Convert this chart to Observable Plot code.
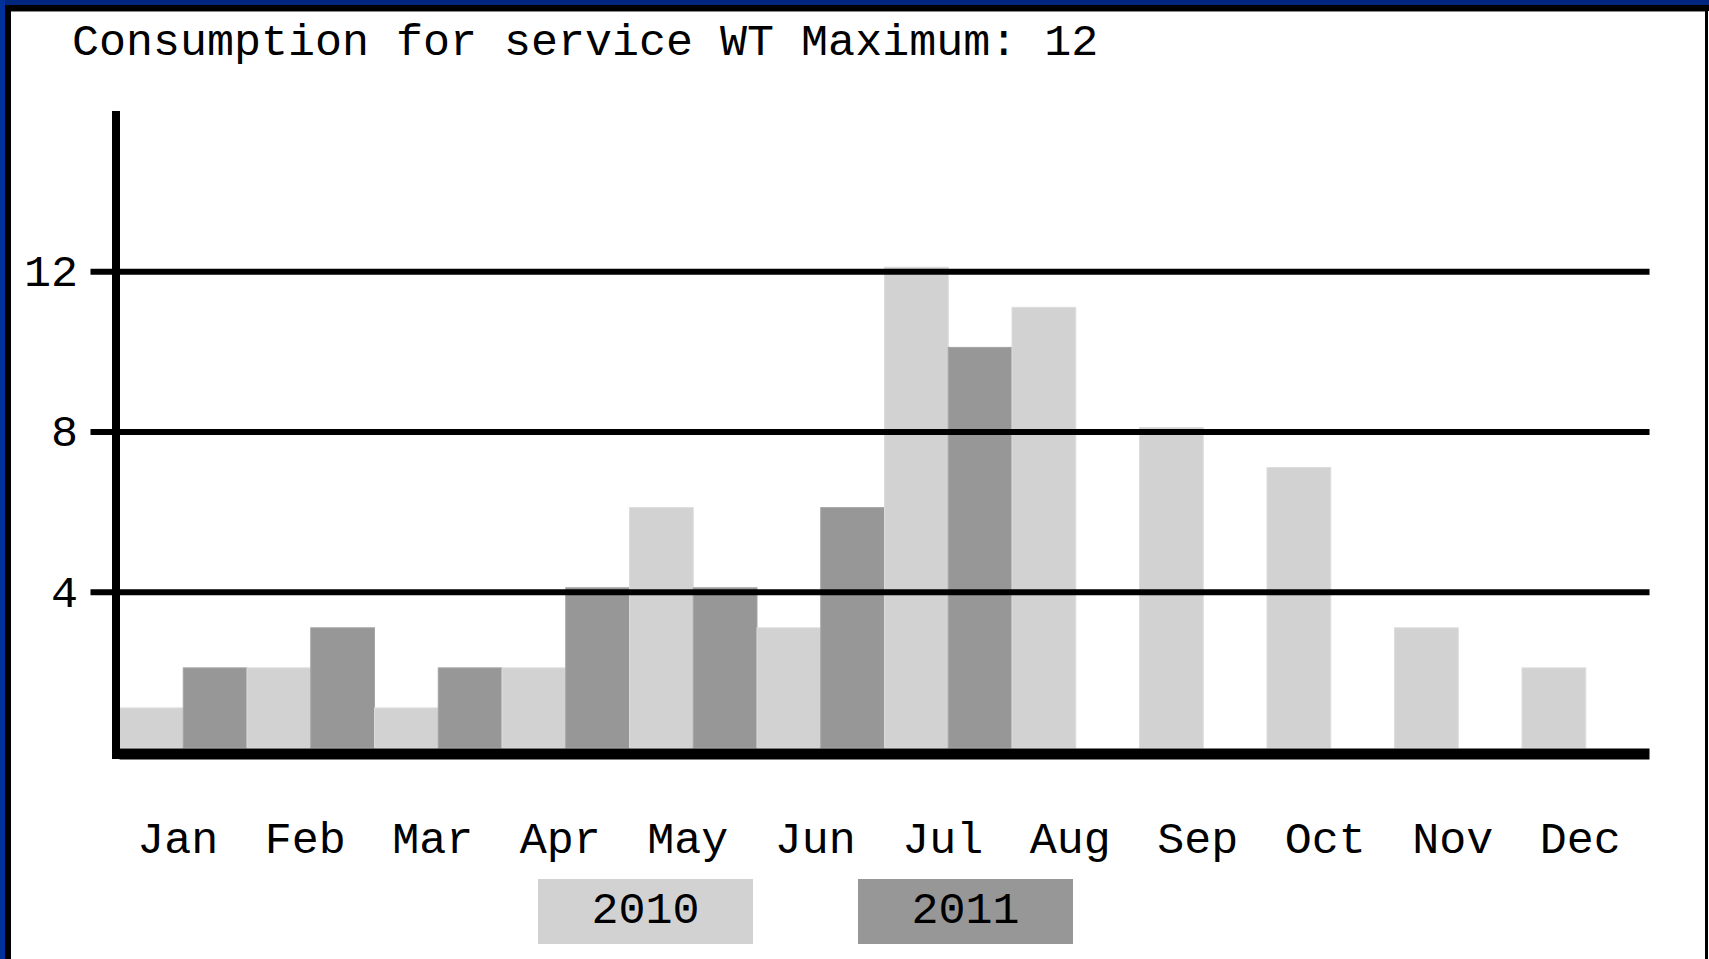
<!DOCTYPE html>
<html>
<head>
<meta charset="utf-8">
<script src="https://cdn.jsdelivr.net/npm/d3@7"></script>
<script src="https://cdn.jsdelivr.net/npm/@observablehq/plot@0.6"></script>
<style>
  html, body { margin: 0; padding: 0; background: #ffffff; }
  #page { position: relative; width: 1709px; height: 959px; overflow: hidden; background: #ffffff;
          font-family: "Liberation Mono", "Courier New", monospace; color: #000; }
  .band { position: absolute; }
  #title { position: absolute; left: 72px; top: 21px; font-size: 45px; line-height: 45px; white-space: pre; }
  #chart { position: absolute; left: 0; top: 90px; }
  .legend-item { position: absolute; top: 879px; width: 215px; height: 65px; font-size: 45px;
                 line-height: 65px; text-align: center; }
</style>
</head>
<body>
<div id="page">
  <div class="band" style="left:0;top:0;width:1709px;height:5px;background:#00267f"></div>
  <div class="band" style="left:0;top:0;width:5px;height:959px;background:#00309a"></div>
  <div class="band" style="left:5px;top:5px;width:1704px;height:6px;background:#000"></div>
  <div class="band" style="left:5px;top:5px;width:6px;height:954px;background:#000"></div>
  <div class="band" style="left:11px;top:11px;width:1694px;height:1px;background:#888"></div>
  <div class="band" style="left:1705px;top:5px;width:3px;height:954px;background:#000"></div>
  <div id="title"></div>
  <div id="chart"></div>
  <div id="legend"></div>
</div>
<script>
// ---- data ----
const titleText = "Consumption for service WT Maximum: 12";
const months = ["Jan", "Feb", "Mar", "Apr", "May", "Jun", "Jul", "Aug", "Sep", "Oct", "Nov", "Dec"];
const years = ["2010", "2011"];
const values2010 = [1, 2, 1, 2, 6, 3, 12, 11, 8, 7, 3, 2];
const values2011 = [2, 3, 2, 4, 4, 6, 10, 0, 0, 0, 0, 0];
const yTicks = [4, 8, 12];
const yMax = 16;
const colors = ["#d2d2d2", "#979797"];

// ---- table built from the arrays ----
const rows = [];
months.forEach((m, i) => {
  rows.push({month: m, index: i, year: years[0], value: values2010[i]});
  rows.push({month: m, index: i, year: years[1], value: values2011[i]});
});
const half = 1 / years.length;
const slot = d => d.index + years.indexOf(d.year) * half;

document.getElementById("title").textContent = titleText;

const fontFamily = "'Liberation Mono', 'Courier New', monospace";

const chart = Plot.plot({
  width: 1709,
  height: 780,
  marginLeft: 119.5,
  marginRight: 59.5,
  marginTop: 21,
  marginBottom: 118,
  style: {fontFamily, fontSize: "45px", color: "#000", background: "transparent", overflow: "visible"},
  x: {type: "linear", domain: [0, months.length], axis: null},
  y: {domain: [0, yMax], axis: null},
  color: {domain: years, range: colors},
  marks: [
    Plot.rect(rows, {
      x1: d => slot(d),
      x2: d => slot(d) + half,
      y1: () => 0,
      y2: "value",
      fill: "year",
      stroke: d => d.value === 0 ? "#eeeeee" : (d.year === years[0] ? "#dcdcdc" : "#a4a4a4"),
      strokeWidth: 1,
      dy: -4
    }),
    Plot.ruleY(yTicks, {stroke: "#000", strokeWidth: 6}),
    Plot.axisY({
      ticks: yTicks,
      label: null,
      tickSize: 29,
      tickPadding: 13,
      strokeWidth: 6,
      stroke: "#000",
      fill: "#000",
      tickFormat: d => String(d)
    }),
    Plot.ruleY([0], {stroke: "#000", strokeWidth: 11, dy: 1.5}),
    Plot.ruleX([0], {stroke: "#000", strokeWidth: 8, dx: -4, insetBottom: -7}),
    Plot.axisX({
      anchor: "bottom",
      label: null,
      ticks: months.map((m, i) => i + 0.5),
      tickFormat: d => months[Math.floor(d)],
      tickSize: 0,
      tickPadding: 69,
      dx: -6,
      fill: "#000"
    })
  ]
});
document.getElementById("chart").appendChild(chart);

// ---- legend ----
const legend = document.getElementById("legend");
const legendLefts = [538, 858];
years.forEach((y, i) => {
  const el = document.createElement("div");
  el.className = "legend-item";
  el.style.left = legendLefts[i] + "px";
  el.style.background = colors[i];
  el.textContent = y;
  legend.appendChild(el);
});
</script>
</body>
</html>
